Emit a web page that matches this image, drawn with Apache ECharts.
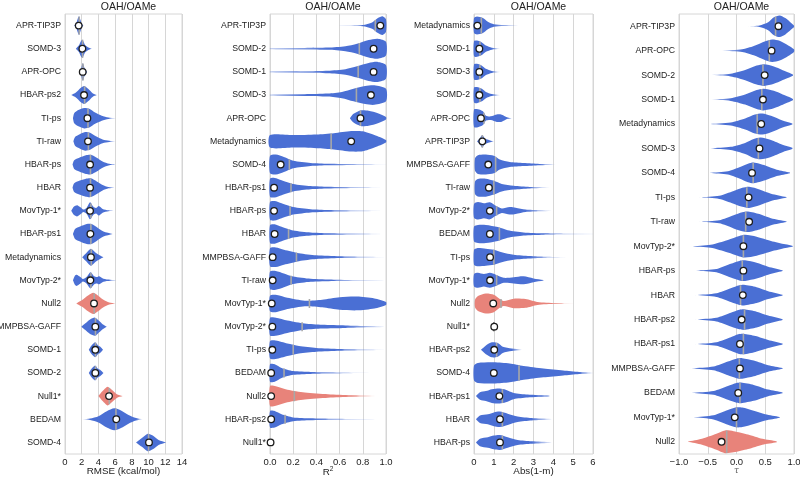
<!DOCTYPE html>
<html>
<head>
<meta charset="utf-8">
<script src="https://cdn.jsdelivr.net/npm/echarts@6.0.0/dist/echarts.min.js"></script>
<style>
  html, body { margin: 0; padding: 0; background: #fff; }
  #main { width: 800px; height: 478px; }
</style>
</head>
<body>
<div id="main"></div>
<script>
// ---- panel 1 : RMSE ----
const rmseLabels = ['APR-TIP3P', 'SOMD-3', 'APR-OPC', 'HBAR-ps2', 'TI-ps', 'TI-raw', 'HBAR-ps', 'HBAR', 'MovTyp-1*', 'HBAR-ps1',
  'Metadynamics', 'MovTyp-2*', 'Null2', 'MMPBSA-GAFF', 'SOMD-1', 'SOMD-2', 'Null1*', 'BEDAM', 'SOMD-4'];
const rmsePoint = [1.64, 2.08, 2.12, 2.28, 2.68, 2.75, 3.0, 3.0, 3.0, 3.04, 3.1, 3.04, 3.47, 3.63, 3.63, 3.63, 5.27, 6.14, 10.05];
const rmseMean = [1.7, 2.1, 2.15, 2.35, 2.75, 2.8, 3.05, 3.05, 3.1, 3.1, 3.15, 3.1, 3.5, 3.65, 3.65, 3.65, 5.3, 6.1, 10.0];
const rmseShape = [
  [[1.1, 0], [1.35, 0.2], [1.55, 0.6], [1.68, 0.75], [1.85, 0.45], [2.0, 0.15], [2.2, 0]],
  [[1.3, 0], [1.65, 0.25], [1.9, 0.6], [2.1, 0.72], [2.4, 0.3], [2.8, 0.1], [3.2, 0]],
  [[1.7, 0], [1.92, 0.25], [2.05, 0.6], [2.15, 0.68], [2.35, 0.3], [2.65, 0]],
  [[0.75, 0], [1.3, 0.2], [1.9, 0.58], [2.3, 0.72], [2.8, 0.48], [3.3, 0.15], [3.8, 0]],
  [[0.95, 0], [1.1, 0.4], [1.6, 0.65], [2.3, 0.82], [2.9, 0.75], [3.6, 0.45], [4.4, 0.2], [5.2, 0.06], [6.1, 0]],
  [[1.0, 0], [1.2, 0.35], [1.7, 0.55], [2.4, 0.75], [3.0, 0.68], [3.7, 0.4], [4.5, 0.15], [5.3, 0.05], [6.1, 0]],
  [[0.9, 0], [1.1, 0.35], [1.7, 0.55], [2.5, 0.75], [3.1, 0.78], [3.8, 0.55], [4.5, 0.25], [5.3, 0.06], [6.0, 0]],
  [[0.9, 0], [1.1, 0.35], [1.7, 0.55], [2.5, 0.72], [3.1, 0.75], [3.8, 0.5], [4.5, 0.22], [5.2, 0.05], [5.9, 0]],
  [[0.75, 0], [1.05, 0.32], [1.45, 0.45], [1.85, 0.28], [2.2, 0.1], [2.6, 0.25], [3.0, 0.68], [3.4, 0.32], [3.7, 0.22], [4.05, 0.38], [4.5, 0.15], [5.2, 0.04], [6.0, 0]],
  [[0.95, 0], [1.2, 0.4], [1.8, 0.6], [2.6, 0.8], [3.2, 0.8], [3.9, 0.5], [4.6, 0.2], [5.7, 0]],
  [[2.05, 0], [2.5, 0.3], [3.1, 0.68], [3.6, 0.4], [4.1, 0.18], [4.6, 0]],
  [[0.95, 0], [1.2, 0.38], [1.4, 0.45], [1.8, 0.28], [2.15, 0.1], [2.6, 0.28], [3.05, 0.65], [3.5, 0.32], [3.8, 0.26], [4.1, 0.32], [4.6, 0.12], [5.4, 0.04], [6.4, 0]],
  [[1.35, 0], [2.0, 0.25], [2.8, 0.65], [3.4, 0.85], [4.0, 0.6], [4.6, 0.3], [5.3, 0.08], [6.0, 0]],
  [[1.95, 0], [2.4, 0.25], [3.0, 0.58], [3.6, 0.72], [4.1, 0.45], [4.5, 0.2], [5.0, 0]],
  [[2.85, 0], [3.15, 0.32], [3.6, 0.6], [4.0, 0.32], [4.2, 0.26], [4.55, 0]],
  [[2.85, 0], [3.15, 0.32], [3.6, 0.6], [3.9, 0.36], [4.2, 0.26], [4.6, 0]],
  [[4.0, 0], [4.5, 0.4], [5.1, 0.75], [5.6, 0.5], [6.2, 0.15], [6.9, 0]],
  [[2.1, 0], [3.0, 0.06], [4.0, 0.25], [5.0, 0.65], [5.9, 0.88], [6.7, 0.7], [7.6, 0.35], [8.5, 0.1], [9.3, 0]],
  [[8.5, 0], [9.2, 0.35], [9.9, 0.7], [10.5, 0.55], [11.2, 0.2], [12.1, 0]]
];
const rmseTicks = [0, 2, 4, 6, 8, 10, 12, 14];

// ---- panel 2 : R2 ----
const r2Labels = ['APR-TIP3P', 'SOMD-2', 'SOMD-1', 'SOMD-3', 'APR-OPC', 'Metadynamics', 'SOMD-4', 'HBAR-ps1', 'HBAR-ps', 'HBAR',
  'MMPBSA-GAFF', 'TI-raw', 'MovTyp-1*', 'MovTyp-2*', 'TI-ps', 'BEDAM', 'Null2', 'HBAR-ps2', 'Null1*'];
const r2Point = [0.951, 0.893, 0.893, 0.87, 0.78, 0.70, 0.092, 0.035, 0.035, 0.04, 0.023, 0.023, 0.015, 0.02, 0.02, 0.01, 0.01, 0.01, 0.005];
const r2Mean = [0.908, 0.77, 0.76, 0.745, 0.78, 0.527, 0.167, 0.181, 0.173, 0.16, 0.228, 0.182, 0.34, 0.277, 0.2, 0.121, 0.21, 0.13, null];
const r2Shape = [
  [[0.6, 0.01], [0.8, 0.05], [0.88, 0.25], [0.93, 0.6], [0.97, 0.75], [1.0, 0.5]],
  [[0.0, 0.05], [0.3, 0.06], [0.5, 0.09], [0.65, 0.2], [0.75, 0.4], [0.85, 0.7], [0.93, 0.8], [1.0, 0.55]],
  [[0.0, 0.05], [0.3, 0.06], [0.5, 0.1], [0.65, 0.22], [0.75, 0.45], [0.85, 0.72], [0.93, 0.8], [1.0, 0.55]],
  [[0.0, 0.05], [0.3, 0.07], [0.5, 0.12], [0.62, 0.25], [0.72, 0.5], [0.82, 0.72], [0.9, 0.78], [1.0, 0.5]],
  [[0.69, 0.02], [0.72, 0.35], [0.78, 0.62], [0.85, 0.6], [0.93, 0.4], [1.0, 0.1]],
  [[0.0, 0.5], [0.2, 0.5], [0.4, 0.55], [0.55, 0.65], [0.7, 0.82], [0.8, 0.8], [0.9, 0.5], [1.0, 0.1]],
  [[0.0, 0.7], [0.05, 0.8], [0.12, 0.6], [0.2, 0.3], [0.35, 0.12], [0.5, 0.06], [0.75, 0.03], [1.0, 0.01]],
  [[0.0, 0.72], [0.04, 0.78], [0.1, 0.6], [0.2, 0.3], [0.35, 0.13], [0.5, 0.07], [0.75, 0.03], [0.95, 0.01]],
  [[0.0, 0.72], [0.04, 0.78], [0.1, 0.6], [0.2, 0.3], [0.35, 0.13], [0.5, 0.07], [0.75, 0.03], [0.95, 0.01]],
  [[0.0, 0.72], [0.04, 0.78], [0.1, 0.58], [0.2, 0.28], [0.35, 0.12], [0.5, 0.06], [0.75, 0.03], [0.95, 0.01]],
  [[0.0, 0.72], [0.05, 0.78], [0.12, 0.6], [0.25, 0.32], [0.4, 0.15], [0.6, 0.07], [0.8, 0.03], [0.98, 0.01]],
  [[0.0, 0.7], [0.05, 0.75], [0.12, 0.55], [0.2, 0.3], [0.35, 0.12], [0.55, 0.05], [0.8, 0.02], [0.98, 0.01]],
  [[0.0, 0.62], [0.06, 0.68], [0.15, 0.45], [0.3, 0.22], [0.45, 0.3], [0.6, 0.5], [0.75, 0.55], [0.9, 0.4], [1.0, 0.12]],
  [[0.0, 0.7], [0.05, 0.72], [0.15, 0.5], [0.3, 0.25], [0.45, 0.15], [0.65, 0.1], [0.85, 0.05], [0.98, 0.02]],
  [[0.0, 0.7], [0.05, 0.74], [0.15, 0.5], [0.25, 0.3], [0.4, 0.15], [0.6, 0.07], [0.8, 0.03], [0.98, 0.01]],
  [[0.0, 0.7], [0.04, 0.7], [0.1, 0.4], [0.2, 0.15], [0.35, 0.08], [0.5, 0.05], [0.7, 0.02], [0.85, 0.01]],
  [[0.0, 0.8], [0.05, 0.78], [0.15, 0.5], [0.3, 0.28], [0.5, 0.14], [0.7, 0.06], [0.9, 0.02]],
  [[0.0, 0.65], [0.04, 0.66], [0.1, 0.4], [0.2, 0.15], [0.35, 0.08], [0.55, 0.04], [0.75, 0.02], [0.9, 0.01]],
  []
];
const r2Ticks = [0, 0.2, 0.4, 0.6, 0.8, 1.0];

// ---- panel 3 : Abs(1-m) ----
const slopeLabels = ['Metadynamics', 'SOMD-1', 'SOMD-3', 'SOMD-2', 'APR-OPC', 'APR-TIP3P', 'MMPBSA-GAFF', 'TI-raw', 'MovTyp-2*', 'BEDAM',
  'TI-ps', 'MovTyp-1*', 'Null2', 'Null1*', 'HBAR-ps2', 'SOMD-4', 'HBAR-ps1', 'HBAR', 'HBAR-ps'];
const slopePoint = [0.17, 0.27, 0.27, 0.27, 0.35, 0.42, 0.72, 0.75, 0.8, 0.8, 0.81, 0.81, 0.97, 1.02, 1.02, 1.0, 1.28, 1.31, 1.31];
const slopeMean = [0.37, 0.3, 0.3, 0.3, 0.5, 0.42, 1.09, 1.0, 1.14, 1.28, 1.0, 1.14, 1.36, 1.0, 1.14, 2.27, 1.43, 1.43, 1.43];
const slopeShape = [
  [[0.0, 0.6], [0.15, 0.72], [0.45, 0.6], [0.7, 0.3], [1.0, 0.1], [1.5, 0.04], [2.2, 0.01]],
  [[0.0, 0.6], [0.15, 0.65], [0.4, 0.5], [0.6, 0.25], [0.9, 0.08], [1.3, 0.01]],
  [[0.0, 0.6], [0.15, 0.65], [0.4, 0.5], [0.6, 0.25], [0.9, 0.08], [1.3, 0.01]],
  [[0.0, 0.6], [0.15, 0.65], [0.4, 0.5], [0.6, 0.25], [0.9, 0.08], [1.3, 0.01]],
  [[0.0, 0.7], [0.2, 0.72], [0.45, 0.55], [0.6, 0.2], [0.85, 0.15], [1.15, 0.3], [1.4, 0.28], [1.7, 0.05], [1.9, 0]],
  [[0.15, 0], [0.3, 0.25], [0.42, 0.5], [0.55, 0.22], [0.9, 0.03], [1.0, 0]],
  [[0.05, 0.5], [0.2, 0.75], [0.6, 0.8], [1.0, 0.7], [1.3, 0.4], [1.8, 0.2], [2.5, 0.12], [3.3, 0.05], [4.1, 0.01]],
  [[0.05, 0.5], [0.2, 0.7], [0.6, 0.72], [1.0, 0.55], [1.4, 0.3], [2.0, 0.15], [2.8, 0.06], [3.8, 0.01]],
  [[0.0, 0.55], [0.2, 0.7], [0.5, 0.6], [0.8, 0.68], [1.1, 0.4], [1.4, 0.18], [1.8, 0.3], [2.1, 0.25], [2.6, 0.1], [3.3, 0.04], [3.9, 0.01]],
  [[0.0, 0.6], [0.2, 0.72], [0.6, 0.72], [1.2, 0.55], [1.7, 0.3], [2.5, 0.12], [3.5, 0.05], [4.5, 0.02], [6.0, 0.01]],
  [[0.0, 0.6], [0.15, 0.72], [0.6, 0.68], [1.0, 0.6], [1.4, 0.4], [2.0, 0.2], [2.8, 0.1], [3.6, 0.04], [4.6, 0.01]],
  [[0.0, 0.5], [0.2, 0.6], [0.5, 0.5], [0.8, 0.6], [1.1, 0.45], [1.5, 0.2], [2.0, 0.25], [2.5, 0.32], [3.0, 0.15], [3.5, 0.02]],
  [[0.05, 0.3], [0.2, 0.6], [0.6, 0.8], [1.0, 0.7], [1.3, 0.35], [1.5, 0.2], [2.0, 0.38], [2.6, 0.35], [3.2, 0.12], [4.1, 0.03], [5.0, 0.01]],
  [],
  [[0.35, 0], [0.6, 0.35], [0.9, 0.6], [1.2, 0.55], [1.45, 0.25], [1.9, 0.1], [2.4, 0.02]],
  [[0.0, 0.6], [0.2, 0.8], [1.0, 0.85], [1.8, 0.75], [2.5, 0.55], [3.5, 0.35], [4.5, 0.2], [5.3, 0.08], [6.0, 0.02]],
  [[0.1, 0], [0.3, 0.3], [0.6, 0.4], [0.9, 0.55], [1.3, 0.6], [1.6, 0.5], [2.0, 0.25], [2.7, 0.12], [3.8, 0.02]],
  [[0.1, 0], [0.3, 0.3], [0.7, 0.4], [1.0, 0.55], [1.3, 0.62], [1.7, 0.45], [2.2, 0.22], [2.9, 0.1], [3.9, 0.02]],
  [[0.1, 0], [0.3, 0.3], [0.7, 0.42], [1.0, 0.55], [1.3, 0.6], [1.7, 0.42], [2.2, 0.2], [2.9, 0.1], [3.9, 0.02]]
];
const slopeTicks = [0, 1, 2, 3, 4, 5, 6];

// ---- panel 4 : Kendall tau ----
const tauLabels = ['APR-TIP3P', 'APR-OPC', 'SOMD-2', 'SOMD-1', 'Metadynamics', 'SOMD-3', 'SOMD-4', 'TI-ps', 'TI-raw', 'MovTyp-2*',
  'HBAR-ps', 'HBAR', 'HBAR-ps2', 'HBAR-ps1', 'MMPBSA-GAFF', 'BEDAM', 'MovTyp-1*', 'Null2'];
const tauPoint = [0.73, 0.61, 0.49, 0.46, 0.43, 0.40, 0.27, 0.21, 0.22, 0.12, 0.12, 0.11, 0.09, 0.06, 0.06, 0.03, -0.03, -0.26];
const tauMean = [0.68, 0.57, 0.46, 0.44, 0.36, 0.38, 0.29, 0.18, 0.16, 0.12, 0.10, 0.07, 0.14, 0.12, 0.05, 0.06, 0.0, -0.17];
const tauShape = [
  [[0.18, 0], [0.4, 0.06], [0.55, 0.3], [0.65, 0.68], [0.75, 0.82], [0.85, 0.62], [0.95, 0.25], [1.0, 0.05]],
  [[-0.25, 0], [0.1, 0.1], [0.3, 0.35], [0.5, 0.72], [0.62, 0.85], [0.75, 0.75], [0.9, 0.4], [1.0, 0.1]],
  [[-0.47, 0], [-0.1, 0.1], [0.15, 0.38], [0.35, 0.72], [0.48, 0.82], [0.65, 0.66], [0.85, 0.3], [0.98, 0.05]],
  [[-0.47, 0], [-0.1, 0.1], [0.15, 0.38], [0.35, 0.72], [0.47, 0.82], [0.65, 0.66], [0.85, 0.3], [0.98, 0.05]],
  [[-0.5, 0], [-0.1, 0.12], [0.15, 0.42], [0.32, 0.72], [0.45, 0.8], [0.6, 0.62], [0.8, 0.26], [0.97, 0.04]],
  [[-0.45, 0], [-0.1, 0.12], [0.15, 0.42], [0.3, 0.72], [0.42, 0.82], [0.6, 0.64], [0.8, 0.28], [0.97, 0.05]],
  [[-0.47, 0], [-0.15, 0.12], [0.05, 0.42], [0.2, 0.7], [0.3, 0.78], [0.5, 0.56], [0.7, 0.24], [0.93, 0.02]],
  [[-0.65, 0], [-0.3, 0.12], [-0.05, 0.48], [0.1, 0.72], [0.22, 0.8], [0.4, 0.6], [0.6, 0.28], [0.87, 0.02]],
  [[-0.65, 0], [-0.3, 0.12], [-0.05, 0.5], [0.1, 0.72], [0.2, 0.78], [0.4, 0.58], [0.6, 0.26], [0.87, 0.02]],
  [[-0.8, 0], [-0.45, 0.12], [-0.15, 0.48], [0.05, 0.78], [0.15, 0.86], [0.35, 0.72], [0.6, 0.4], [0.85, 0.14], [0.98, 0.02]],
  [[-0.7, 0], [-0.35, 0.12], [-0.1, 0.52], [0.05, 0.74], [0.15, 0.78], [0.35, 0.6], [0.55, 0.3], [0.8, 0.03]],
  [[-0.72, 0], [-0.35, 0.14], [-0.1, 0.52], [0.05, 0.74], [0.13, 0.78], [0.35, 0.6], [0.55, 0.3], [0.8, 0.03]],
  [[-0.72, 0], [-0.35, 0.14], [-0.1, 0.52], [0.05, 0.74], [0.13, 0.78], [0.35, 0.6], [0.55, 0.3], [0.8, 0.03]],
  [[-0.72, 0], [-0.35, 0.14], [-0.1, 0.52], [0.03, 0.74], [0.12, 0.78], [0.33, 0.6], [0.55, 0.3], [0.8, 0.03]],
  [[-0.78, 0], [-0.4, 0.14], [-0.15, 0.52], [0.0, 0.74], [0.1, 0.78], [0.3, 0.6], [0.55, 0.25], [0.8, 0.03]],
  [[-0.78, 0], [-0.4, 0.14], [-0.15, 0.52], [0.0, 0.74], [0.08, 0.78], [0.3, 0.6], [0.55, 0.25], [0.8, 0.03]],
  [[-0.75, 0], [-0.4, 0.16], [-0.15, 0.56], [0.0, 0.76], [0.1, 0.74], [0.3, 0.5], [0.5, 0.24], [0.75, 0.03]],
  [[-0.85, 0], [-0.6, 0.22], [-0.35, 0.6], [-0.2, 0.86], [-0.05, 0.8], [0.2, 0.55], [0.45, 0.22], [0.7, 0.03]]
];
const tauTicks = [-1.0, -0.5, 0.0, 0.5, 1.0];

const BLUE = '#4a6fd4';
const SALMON = '#e8837a';
const FONT = 'Liberation Sans';

// half-width of a profile at value v (linear between knots)
function widthAt(prof, v) {
  if (!prof.length) return 0;
  for (let k = 1; k < prof.length; k++) {
    if (v <= prof[k][0]) {
      const a = prof[k - 1], b = prof[k];
      const t = b[0] === a[0] ? 0 : (v - a[0]) / (b[0] - a[0]);
      return Math.max(0, a[1] + (b[1] - a[1]) * t);
    }
  }
  return prof[prof.length - 1][1];
}

// thin tails at either end fade out, like the kde tails of the original
function tailFill(xs, prof, col) {
  const n = prof.length;
  let l = 0, r = n - 1;
  while (l < n - 1 && prof[l][1] < 0.12) l++;
  while (r > 0 && prof[r][1] < 0.12) r--;
  l = Math.max(l - 1, 0);
  r = Math.min(r + 1, n - 1);
  const x0 = xs[0], x1 = xs[n - 1];
  const span = Math.max(x1 - x0, 1);
  const sl = Math.min(Math.max((xs[l] - x0) / span, 0), 1);
  const sr = Math.max(Math.min(Math.max((xs[r] - x0) / span, 0), 1), sl);
  const stops = [
    { offset: 0, color: xs[l] - x0 > 6 ? echarts.color.modifyAlpha(col, 0.3) : col },
    { offset: sl, color: col },
    { offset: sr, color: col },
    { offset: 1, color: x1 - xs[r] > 6 ? echarts.color.modifyAlpha(col, 0.1) : col }
  ];
  return new echarts.graphic.LinearGradient(x0, 0, x1, 0, stops, true);
}

function violin(labels, shapes, points, means) {
  return function (params, api) {
    const i = api.value(1);
    const prof = shapes[i];
    const cy = api.coord([0, i])[1];
    const half = api.size([0, 1])[1] / 2 * 1.08;
    const col = labels[i].indexOf('Null') === 0 ? SALMON : BLUE;
    const children = [];
    if (prof.length) {
      const xs = prof.map(p => api.coord([p[0], i])[0]);
      const top = prof.map((p, k) => [xs[k], cy - p[1] * half]);
      const bot = prof.map((p, k) => [xs[k], cy + p[1] * half]).reverse();
      children.push({
        type: 'polygon',
        shape: { points: top.concat(bot), smooth: 0.25 },
        style: { fill: tailFill(xs, prof, col) }
      });
    }
    if (means[i] !== null) {
      let mw = widthAt(prof, means[i]) * half;
      if (mw < 4.5) mw = 4.5;
      const mx = api.coord([means[i], i])[0];
      children.push({
        type: 'line',
        shape: { x1: mx, y1: cy - mw, x2: mx, y2: cy + mw },
        style: { stroke: prof.length ? '#a8a8a8' : '#555', lineWidth: 1.6 }
      });
    }
    const px = api.coord([points[i], i])[0];
    children.push({
      type: 'circle',
      shape: { cx: px, cy: cy, r: 3.3 },
      style: { fill: '#fff', stroke: '#1c1c1c', lineWidth: 1.3 }
    });
    return { type: 'group', children: children };
  };
}

const panels = [
  { labels: rmseLabels, pts: rmsePoint, means: rmseMean, shapes: rmseShape, ticks: rmseTicks, left: 65, width: 117, name: 'RMSE (kcal/mol)', fmt: v => String(v) },
  { labels: r2Labels, pts: r2Point, means: r2Mean, shapes: r2Shape, ticks: r2Ticks, left: 270, width: 116, name: 'R{sup|2}', fmt: v => v.toFixed(1) },
  { labels: slopeLabels, pts: slopePoint, means: slopeMean, shapes: slopeShape, ticks: slopeTicks, left: 474, width: 119, name: 'Abs(1-m)', fmt: v => String(v) },
  { labels: tauLabels, pts: tauPoint, means: tauMean, shapes: tauShape, ticks: tauTicks, left: 679, width: 115, name: '{tau|τ}', fmt: v => (v < 0 ? '\u2212' : '') + Math.abs(v).toFixed(1) }
];

const chart = echarts.init(document.getElementById('main'));
const option = {
  animation: false,
  textStyle: { fontFamily: FONT },
  title: panels.map(p => ({
    text: 'OAH/OAMe',
    left: p.left + p.width / 2,
    top: -3,
    textAlign: 'center',
    textStyle: { fontFamily: FONT, fontSize: 10.5, fontWeight: 'normal', color: '#222' }
  })),
  grid: panels.map(p => ({
    left: p.left, width: p.width, top: 14, bottom: 24,
    containLabel: false, outerBoundsMode: 'none',
    show: true, borderColor: '#d6d6d6', borderWidth: 1, backgroundColor: 'transparent'
  })),
  xAxis: panels.map((p, k) => ({
    type: 'value', gridIndex: k,
    min: p.ticks[0], max: p.ticks[p.ticks.length - 1],
    interval: p.ticks[1] - p.ticks[0],
    name: p.name, nameLocation: 'middle', nameGap: 12, nameMoveOverlap: false,
    nameTextStyle: {
      fontFamily: FONT, fontSize: 9.8, color: '#222',
      rich: {
        sup: { fontSize: 6.5, verticalAlign: 'top', padding: [0, 0, 5, 0], color: '#222', fontFamily: FONT },
        tau: { fontSize: 9, fontStyle: 'italic', color: '#666', fontFamily: 'DejaVu Serif' }
      }
    },
    axisLine: { show: false },
    axisTick: { show: false },
    axisLabel: { fontFamily: FONT, fontSize: 9.5, color: '#222', margin: 3, formatter: p.fmt },
    splitLine: { show: true, lineStyle: { color: '#d6d6d6', width: 1 } }
  })),
  yAxis: panels.map((p, k) => ({
    type: 'category', gridIndex: k, inverse: true,
    data: p.labels,
    axisLine: { show: false },
    axisTick: { show: false },
    splitLine: { show: false },
    axisLabel: { fontFamily: FONT, fontSize: 8.7, color: '#222', margin: 4, interval: 0 }
  })),
  series: panels.map((p, k) => ({
    type: 'custom',
    xAxisIndex: k, yAxisIndex: k,
    renderItem: violin(p.labels, p.shapes, p.pts, p.means),
    encode: { x: 0, y: 1 },
    data: p.labels.map((l, i) => [p.pts[i], i]),
    silent: true
  }))
};
chart.setOption(option);
</script>
</body>
</html>
